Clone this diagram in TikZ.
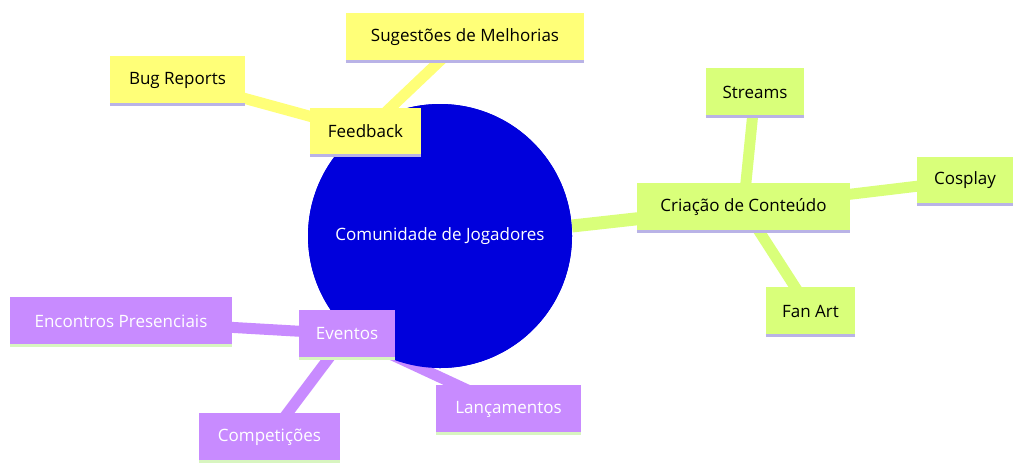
\documentclass[tikz,border=0pt]{standalone}
\usepackage{fontspec}
\setmainfont{Open Sans}
\definecolor{yel}{HTML}{FFFF78}
\definecolor{grn}{HTML}{D9FF7A}
\definecolor{pur}{HTML}{C88BFF}
\definecolor{lav}{HTML}{B9B3E6}
\definecolor{lgr}{HTML}{D8F5C0}
\begin{document}
\begin{tikzpicture}[x=1pt,y=-1pt,
  box/.style={minimum height=48pt,inner xsep=12pt,font=\fontsize{17}{20}\selectfont},
  yb/.style={box,fill=yel,text=black},
  gb/.style={box,fill=grn,text=black},
  pb/.style={box,fill=pur,text=white},
  ye/.style={yel,line width=11pt},
  ge/.style={grn,line width=11pt},
  pe/.style={pur,line width=11pt}]
\useasboundingbox (0,0) rectangle (1024,475);
\node[circle,fill=blue!80!black,fill={rgb,255:red,0;green,0;blue,220},minimum size=264pt,inner sep=0pt,text=white,font=\fontsize{17}{20}\selectfont] (c) at (440,236) {Comunidade de Jogadores};
\coordinate (fb) at (365.5,131.5);
\coordinate (sm) at (465,37);
\coordinate (br) at (177.5,80);
\coordinate (cc) at (743.5,207);
\coordinate (st) at (755,92);
\coordinate (co) at (965,180.5);
\coordinate (fa) at (810.5,311);
\coordinate (ev) at (347,334);
\coordinate (ep) at (121,321);
\coordinate (cp) at (269.5,437);
\coordinate (la) at (508.5,409);
\draw[ye,line width=13pt] (c) -- (fb);
\draw[ye] (fb) -- (sm); \draw[ye] (fb) -- (br);
\draw[ge,line width=13pt] (c.center) ++(132,-10) -- (cc);
\draw[ge] (cc) -- (st); \draw[ge] (cc) -- (co); \draw[ge] (cc) -- (fa);
\draw[pe,line width=13pt] (c) -- (ev);
\draw[pe] (ev) -- (ep); \draw[pe] (ev) -- (cp); \draw[pe] (ev) -- (la);
\node[circle,fill={rgb,255:red,0;green,0;blue,220},minimum size=264pt,inner sep=0pt,text=white,font=\fontsize{17}{20}\selectfont] at (440,236) {Comunidade de Jogadores};
\foreach \n/\t/\s/\w/\b in {fb/Feedback/yb/111/lav, sm/Sugestões de Melhorias/yb/238/lav, br/Bug Reports/yb/135/lav,
  cc/Criação de Conteúdo/gb/213/lav, st/Streams/gb/98/lav, co/Cosplay/gb/96/lav, fa/Fan Art/gb/89/lav,
  ev/Eventos/pb/96/lgr, ep/Encontros Presenciais/pb/222/lgr, cp/Competições/pb/141/lgr, la/Lançamentos/pb/145/lgr}{
  \node[\s,minimum width=\w pt] (n\n) at (\n) {\t};
  \draw[\b,line width=3pt] (n\n.south west) -- (n\n.south east);
}
\end{tikzpicture}
\end{document}
